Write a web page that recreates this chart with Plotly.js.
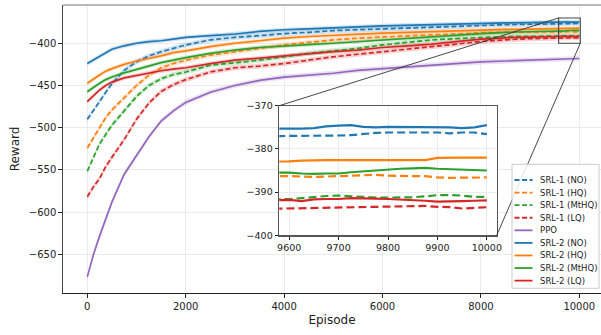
<!DOCTYPE html>
<html><head><meta charset="utf-8">
<script src="https://cdn.plot.ly/plotly-3.0.1.min.js"></script>
<style>html,body{margin:0;padding:0;overflow:hidden;background:#fff}</style>
</head><body><div id="chart" style="width:601px;height:335px"></div>
<script>
// ---------- data ----------
const mainEp = [0,125,250,375,500,750,1000,1250,1500,1750,2000,2500,3000,3500,4000,4500,5000,5500,6000,6500,7000,7500,8000,8500,9000,9500];
const tailEp = [9600,9625,9650,9675,9700,9725,9750,9775,9800,9825,9850,9875,9900,9925,9950,9975,10000];
const ppoEp = [0,125,250,375,500,750,1000,1250,1500,1750,2000,2500,3000,3500,4000,4500,5000,5500,6000,6500,7000,7500,8000,8500,9000,9500,10000];

const srl1NoMain   = [-490,-480,-469,-458,-448,-432,-422,-415,-410,-406,-402,-396,-393,-391,-388.5,-387,-385,-384,-383,-382,-381,-380,-378.5,-378,-377.5,-377.2];
const srl1NoTail   = [-377.0,-377.0,-376.9,-376.9,-376.9,-376.8,-376.5,-376.3,-376.2,-376.2,-376.2,-376.2,-376.2,-376.4,-376.2,-376.2,-376.6];
const srl1HqMain   = [-524,-512,-499,-488,-479,-464,-450,-438,-429,-424,-420,-414,-410,-406,-402,-399,-396,-394,-392.5,-391,-390,-389,-387.5,-387,-386.5,-386.3];
const srl1HqTail   = [-386.3,-386.4,-386.5,-386.4,-386.3,-386.1,-386.0,-386.0,-386.2,-386.3,-386.3,-386.3,-386.6,-386.7,-386.7,-386.7,-386.6];
const srl1MtMain   = [-551.3,-535,-519,-508,-497,-480,-463,-450,-442,-437,-434,-426,-423,-420,-416,-412,-409,-406,-402,-399,-396,-394.5,-393,-392,-391.8,-391.6];
const srl1MtTail   = [-391.6,-391.4,-391.1,-390.9,-390.8,-390.9,-391.1,-391.3,-391.3,-391.3,-391.2,-391.0,-390.7,-390.7,-390.8,-391.1,-391.1];
const srl1LqMain   = [-581.7,-570,-560,-546,-535,-514,-490,-471,-457,-449,-443,-434,-429,-427,-424,-420,-416,-413,-410,-406.5,-404,-401,-398,-396,-394.5,-394];
const srl1LqTail   = [-393.8,-393.8,-393.7,-393.6,-393.5,-393.5,-393.5,-393.4,-393.3,-393.3,-393.2,-393.2,-393.4,-393.5,-393.8,-393.7,-393.5];
const ppoVals      = [-676.5,-650,-628,-608,-588,-555,-533,-511,-492,-480,-470,-458,-450,-444,-440,-437.5,-435.5,-432,-430,-428,-425.5,-424,-422,-421,-420,-419,-418];
const srl2NoMain   = [-424,-420,-416,-411,-407,-403,-400,-398,-397,-395,-393,-391,-389,-386,-384,-383,-381.5,-380.5,-379.5,-378.8,-378,-377,-376,-375.8,-375.6,-375.5];
const srl2NoTail   = [-375.4,-375.3,-375.2,-374.8,-374.6,-374.5,-374.9,-375.0,-374.9,-374.9,-375.0,-375.0,-374.9,-375.0,-375.2,-375.0,-374.5];
const srl2HqMain   = [-447.4,-442,-437.6,-433,-430,-425,-421,-418,-415,-411,-409,-404,-400,-397,-394,-392,-390.5,-389,-388,-387,-386,-385,-384,-383.5,-383.2,-383];
const srl2HqTail   = [-382.9,-382.7,-382.6,-382.6,-382.6,-382.6,-382.6,-382.6,-382.6,-382.6,-382.7,-382.6,-382.1,-382.0,-382.0,-382.0,-382.0];
const srl2MtMain   = [-457.3,-452,-447.4,-443,-440,-435,-431,-427,-423,-420,-417,-412,-408,-405,-403,-401.5,-400,-398,-396,-394,-392,-390,-388.5,-387,-386,-385.5];
const srl2MtTail   = [-385.5,-385.7,-385.8,-385.7,-385.7,-385.4,-385.2,-385.0,-384.7,-384.6,-384.5,-384.4,-384.6,-384.7,-384.7,-384.9,-385.0];
const srl2LqMain   = [-469.2,-462,-455.3,-450,-446,-441,-438,-435,-432.5,-430.5,-429,-424,-420,-417.5,-415,-412,-410,-408,-405,-403,-401,-398,-395,-393.5,-392.5,-392];
const srl2LqTail   = [-391.8,-392.1,-391.7,-391.6,-391.6,-391.4,-391.4,-391.5,-391.6,-391.7,-391.8,-392.0,-392.2,-392.2,-392.1,-392.0,-391.9];
const bandHalf     = [3, 3, 3, 3, 3, 2.5, 2.5, 2.5, 2.5];

const seriesNames = ['SRL-1 (NO)','SRL-1 (HQ)','SRL-1 (MtHQ)','SRL-1 (LQ)','PPO','SRL-2 (NO)','SRL-2 (HQ)','SRL-2 (MtHQ)','SRL-2 (LQ)'];
const xTicks = [0,2000,4000,6000,8000,10000];
const yTicks = [-650,-600,-550,-500,-450,-400];
const insetXTicks = [9600,9700,9800,9900,10000];
const insetYTicks = [-400,-390,-380,-370];

// ---------- styling ----------
const colors = ['#1f77b4','#ff7f0e','#2ca02c','#d62728','#9467bd','#1f77b4','#ff7f0e','#2ca02c','#d62728'];
const rgba = (hex,a)=>{const n=parseInt(hex.slice(1),16);return `rgba(${n>>16},${(n>>8)&255},${n&255},${a})`;};
const dashed = [true,true,true,true,false,false,false,false,false];

const series = [
  {x: mainEp.concat(tailEp), y: srl1NoMain.concat(srl1NoTail)},
  {x: mainEp.concat(tailEp), y: srl1HqMain.concat(srl1HqTail)},
  {x: mainEp.concat(tailEp), y: srl1MtMain.concat(srl1MtTail)},
  {x: mainEp.concat(tailEp), y: srl1LqMain.concat(srl1LqTail)},
  {x: ppoEp, y: ppoVals},
  {x: mainEp.concat(tailEp), y: srl2NoMain.concat(srl2NoTail)},
  {x: mainEp.concat(tailEp), y: srl2HqMain.concat(srl2HqTail)},
  {x: mainEp.concat(tailEp), y: srl2MtMain.concat(srl2MtTail)},
  {x: mainEp.concat(tailEp), y: srl2LqMain.concat(srl2LqTail)},
];

const traces = [];
series.forEach((s,i)=>{
  const up = s.y.map(v=>v+bandHalf[i]);
  const lo = s.y.map(v=>v-bandHalf[i]);
  traces.push({x: s.x.concat(s.x.slice().reverse()), y: up.concat(lo.slice().reverse()),
    fill:'toself', fillcolor: rgba(colors[i],0.2), line:{width:0}, mode:'lines',
    hoverinfo:'skip', showlegend:false, xaxis:'x', yaxis:'y'});
});
series.forEach((s,i)=>{
  traces.push({x:s.x, y:s.y, mode:'lines', name:seriesNames[i], showlegend:false,
    line:{color:colors[i], width:1.7, dash: dashed[i] ? '5px,2.6px' : 'solid'}, xaxis:'x', yaxis:'y'});
});
series.forEach((s,i)=>{
  if (i===4) return;
  traces.push({x:s.x, y:s.y, mode:'lines', name:seriesNames[i], showlegend:false,
    line:{color:colors[i], width:2.2, dash: dashed[i] ? '8px,4px' : 'solid'}, xaxis:'x2', yaxis:'y2'});
});

// geometry
const W=601, H=335, mL=63, mR=0, mT=5, mB=42;
const pw=W-mL-mR, ph=H-mT-mB;
const px2x = p=>(p-mL)/pw, py2y = p=>1-(p-mT)/ph;
const xr=[-494,10441], yr=[-695.6,-354.7];
const insetXR=[9580,10020], insetYR=[-400,-370];
const insetDomX=[px2x(279.3), px2x(496.7)], insetDomY=[py2y(235.3), py2y(105.7)];
const paperToX = f=>xr[0]+f*(xr[1]-xr[0]);
const paperToY = f=>yr[0]+f*(yr[1]-yr[0]);

const font = 'DejaVu Sans, sans-serif';
const shapes = [
  {type:'rect', xref:'x', yref:'y', x0:insetXR[0], x1:insetXR[1], y0:insetYR[0], y1:insetYR[1],
   line:{color:'#444', width:1.1}, layer:'above'},
  {type:'line', xref:'x', yref:'y', x0:insetXR[0], y0:insetYR[1], x1:paperToX(insetDomX[0]), y1:paperToY(insetDomY[1]),
   line:{color:'#333', width:0.9}, layer:'above'},
  {type:'line', xref:'x', yref:'y', x0:insetXR[1], y0:insetYR[0], x1:paperToX(insetDomX[1]), y1:paperToY(insetDomY[0]),
   line:{color:'#333', width:0.9}, layer:'above'},
  {type:'line', xref:'paper', yref:'paper', x0:0, x1:1, y0:1, y1:1, line:{color:'#777', width:1.2}},
  {type:'rect', xref:'x2', yref:'y2', x0:insetXR[0], x1:insetXR[1], y0:insetYR[0], y1:insetYR[1],
   fillcolor:'#fff', line:{width:0}, layer:'below'},
];
// manual legend
const annotations = [];
const lgL=512, lgR=599, lgT=164.3, lgB=288.3;
shapes.push({type:'rect', xref:'paper', yref:'paper', x0:px2x(lgL), x1:px2x(lgR), y0:py2y(lgB), y1:py2y(lgT),
  fillcolor:'rgba(255,255,255,0.85)', line:{color:'#ccc', width:1}, layer:'above'});
seriesNames.forEach((n,i)=>{
  const cy = 180 + i*12.58;
  shapes.push({type:'line', xref:'paper', yref:'paper', x0:px2x(514.5), x1:px2x(532.5), y0:py2y(cy), y1:py2y(cy),
    line:{color:colors[i], width:1.8, dash: dashed[i] ? '5px,2.6px' : 'solid'}, layer:'above'});
  annotations.push({xref:'paper', yref:'paper', x:px2x(538), y:py2y(cy), text:n, showarrow:false,
    xanchor:'left', yanchor:'middle', font:{family:font, size:8.5, color:'#222'}});
});

const layout = {
  width:W, height:H, margin:{l:mL, r:mR, t:mT, b:mB},
  paper_bgcolor:'#fff', plot_bgcolor:'#fff', showlegend:false,
  font:{family:font, size:10, color:'#222'},
  xaxis:{range:xr, tickvals:xTicks, ticktext:xTicks.map(String), showgrid:true, gridcolor:'#e6e6e6', gridwidth:0.8,
    zeroline:false, showline:true, linecolor:'#222', linewidth:1.2, ticks:'outside', ticklen:3.5, tickcolor:'#222',
    tickfont:{size:10, family:font, color:'#222'}, title:{text:'Episode', font:{size:12, family:font, color:'#222'}, standoff:4}},
  yaxis:{range:yr, tickvals:yTicks, ticktext:yTicks.map(v=>'\u2212'+Math.abs(v)), showgrid:true, gridcolor:'#e6e6e6', gridwidth:0.8,
    zeroline:false, showline:true, linecolor:'#444', linewidth:1.2, ticks:'outside', ticklen:3.5, tickcolor:'#222',
    tickfont:{size:10, family:font, color:'#222'}, title:{text:'Reward', font:{size:12, family:font, color:'#222'}, standoff:6}},
  xaxis2:{domain:insetDomX, anchor:'y2', range:insetXR, tickvals:insetXTicks, ticktext:insetXTicks.map(String),
    showgrid:true, gridcolor:'#e6e6e6', gridwidth:0.8, zeroline:false, showline:true, mirror:true, linecolor:'#555', linewidth:1.2,
    ticks:'outside', ticklen:3.5, tickcolor:'#222', tickfont:{size:9.5, family:font, color:'#222'}},
  yaxis2:{domain:insetDomY, anchor:'x2', range:insetYR, tickvals:insetYTicks, ticktext:insetYTicks.map(v=>'\u2212'+Math.abs(v)),
    showgrid:true, gridcolor:'#e6e6e6', gridwidth:0.8, zeroline:false, showline:true, mirror:true, linecolor:'#555', linewidth:1.2,
    ticks:'outside', ticklen:3.5, tickcolor:'#222', tickfont:{size:9.5, family:font, color:'#222'}},
  shapes, annotations
};
Plotly.newPlot('chart', traces, layout, {staticPlot:true, displayModeBar:false});
</script></body></html>
